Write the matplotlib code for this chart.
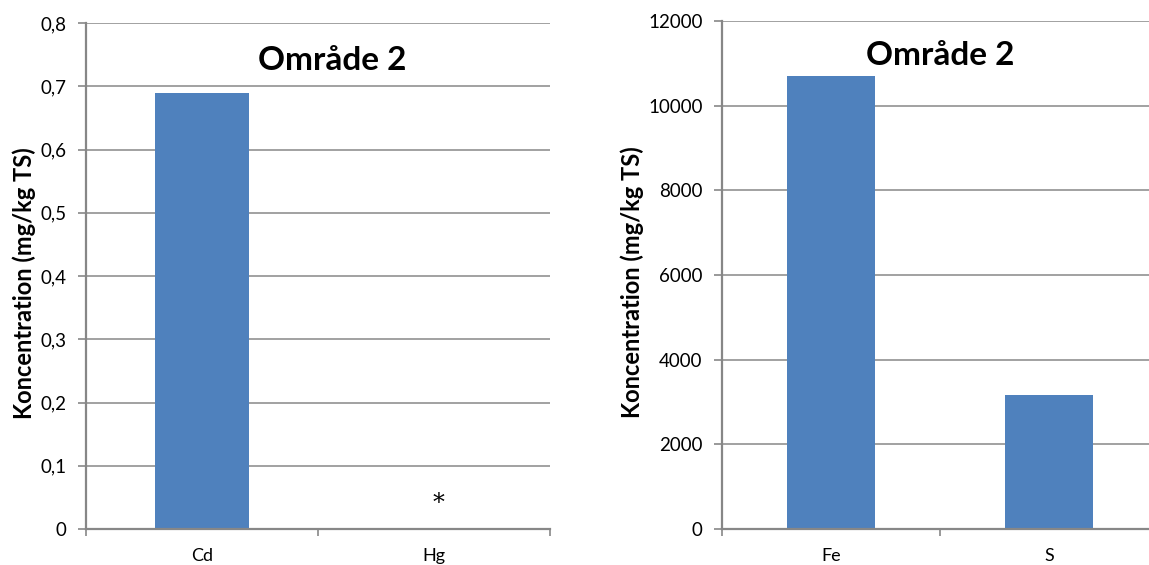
import matplotlib.pyplot as plt
from matplotlib.ticker import FuncFormatter

# Metals in sediment, area 2 (mg/kg TS)
trace_metals = ["Cd", "Hg"]
trace_values = [0.69, 0.0]          # Hg below detection limit -> marked with *
trace_flags = ["", "*"]
trace_ticks = [0, 0.1, 0.2, 0.3, 0.4, 0.5, 0.6, 0.7, 0.8]

major_elements = ["Fe", "S"]
major_values = [10700, 3160]
major_ticks = [0, 2000, 4000, 6000, 8000, 10000, 12000]

title = "Område 2"
ylabel = "Koncentration (mg/kg TS)"

BAR = "#4F81BD"
GRID = "#878787"
plt.rcParams["font.family"] = ["Lato", "DejaVu Sans"]

fig = plt.figure(figsize=(11.49, 5.65), dpi=100)
W, H = 1149, 565


def px_axes(left, top, right, bottom):
    return fig.add_axes([left / W, 1 - bottom / H, (right - left) / W, (bottom - top) / H])


def style(ax, names, ticks, fmt):
    n = len(names)
    ax.set_xlim(-0.5, n - 0.5)
    ax.set_ylim(ticks[0], ticks[-1])
    ax.set_yticks(ticks)
    ax.yaxis.set_major_formatter(FuncFormatter(fmt))
    ax.set_xticks(range(n))
    ax.set_xticklabels(names, fontsize=13)
    ax.set_xticks([i - 0.5 for i in range(n + 1)], minor=True)
    ax.tick_params(axis="x", which="major", length=0, pad=14)
    ax.tick_params(axis="x", which="minor", length=5, width=1.2, color=GRID, direction="out")
    ax.tick_params(axis="y", length=6, width=1.2, color=GRID, pad=8, labelsize=13.5)
    ax.grid(axis="y", color=GRID, linewidth=1.1)
    ax.set_axisbelow(True)
    for side in ("top", "right"):
        ax.spines[side].set_visible(False)
    for side in ("left", "bottom"):
        ax.spines[side].set_color(GRID)
        ax.spines[side].set_linewidth(1.6)
        ax.spines[side].set_zorder(3)


# left panel: trace metals
ax1 = px_axes(86, 23, 550, 529)
ax1.bar(range(len(trace_metals)), trace_values, width=0.405, color=BAR, zorder=2)
style(ax1, trace_metals, trace_ticks, lambda v, p: f"{v:.1f}".replace(".", ",") if v else "0")
for i, flag in enumerate(trace_flags):
    if flag:
        ax1.text(i + 0.02, 0.04, flag, ha="center", va="center", fontsize=17,
                 family="DejaVu Serif", zorder=4)
ax1.text(0.53, 0.955, title, transform=ax1.transAxes, ha="center", va="top",
         fontsize=24, fontweight="bold")
ax1.set_ylabel(ylabel, fontsize=17, fontweight="bold")
ax1.yaxis.set_label_coords(-0.108, 0.486)

# right panel: major elements
ax2 = px_axes(722, 21, 1158, 529)
ax2.bar(range(len(major_elements)), major_values, width=0.40, color=BAR, zorder=2)
style(ax2, major_elements, major_ticks, lambda v, p: f"{v:.0f}")
ax2.text(0.5, 0.96, title, transform=ax2.transAxes, ha="center", va="top",
         fontsize=24, fontweight="bold")
ax2.set_ylabel(ylabel, fontsize=17, fontweight="bold")
ax2.yaxis.set_label_coords(-0.18, 0.486)

fig.savefig("out.png", dpi=100)
